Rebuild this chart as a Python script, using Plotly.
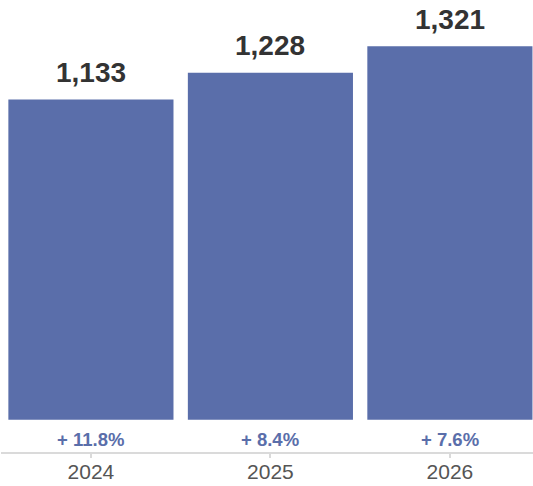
import plotly.graph_objects as go

years = ["2024", "2025", "2026"]
values = [1133, 1228, 1321]
growth = ["+ 11.8%", "+ 8.4%", "+ 7.6%"]

bar_color = "#5A6EAA"
font_family = "Liberation Sans, Arial, Helvetica, sans-serif"

fig = go.Figure(
    go.Bar(
        x=years,
        y=values,
        width=0.92,
        marker=dict(color=bar_color, line=dict(width=0)),
        hoverinfo="skip",
    )
)

# value labels above each bar (category index positions)
for i, v in enumerate(values):
    fig.add_annotation(
        x=i, y=v, text=f"<b>{v:,}</b>", showarrow=False,
        yanchor="middle", yshift=27,
        font=dict(family=font_family, size=28, color="#333333"),
    )

# growth labels under each bar
for i, g in enumerate(growth):
    fig.add_annotation(
        x=i, y=0, text=f"<b>{g}</b>", showarrow=False,
        yanchor="middle", yshift=-19.5,
        font=dict(family=font_family, size=18.5, color=bar_color),
    )

fig.update_layout(
    width=533, height=486,
    margin=dict(l=1, r=0, t=0, b=34),
    paper_bgcolor="white", plot_bgcolor="white",
    showlegend=False,
    xaxis=dict(
        type="category",
        range=[-0.501, 2.463],
        showline=True, linecolor="#DADADA", linewidth=2,
        ticks="outside", ticklen=4, tickwidth=2, tickcolor="#DADADA",
        ticklabelstandoff=-4,
        showgrid=False, zeroline=False,
        tickfont=dict(family=font_family, size=21, color="#555555"),
    ),
    yaxis=dict(
        range=[-114, 1485],
        visible=False, showgrid=False, zeroline=False,
    ),
)

fig.write_html("out.html")
